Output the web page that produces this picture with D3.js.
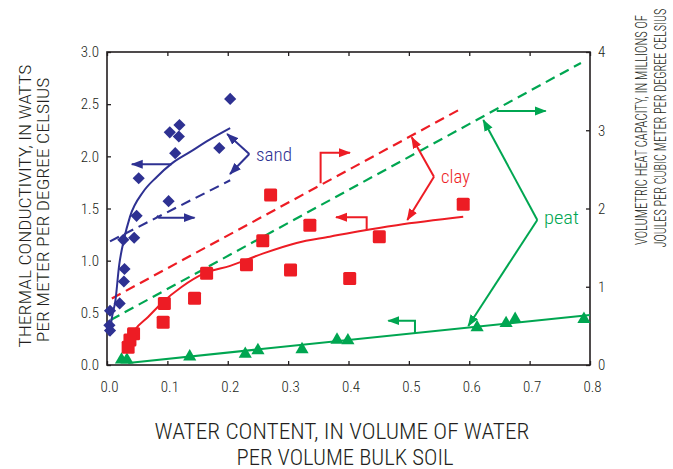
<!DOCTYPE html>
<html>
<head>
<meta charset="utf-8">
<script src="https://d3js.org/d3.v7.min.js"></script>
<style>
  body { margin: 0; background: #fff; }
  svg text { font-family: "Liberation Sans Narrow", "Roboto", "Liberation Sans", sans-serif; font-stretch: condensed; }
  .axis text { fill: #231f20; font-size: 15px; font-weight: 300; }
  .axis line { stroke: #231f20; stroke-width: 1.3px; }
  .axis path { display: none; }
  .ttl { font-weight: 300; }
</style>
</head>
<body>
<svg width="673" height="469"></svg>
<script>
// ---- data ----
// measured points, thermal conductivity (W/m/K) vs water content
var sandX = [0.204, 0.104, 0.120, 0.119, 0.113, 0.186, 0.0525, 0.102, 0.049, 0.027, 0.045, 0.029, 0.028, 0.021, 0.005, 0.004, 0.005];
var sandY = [2.55, 2.23, 2.30, 2.19, 2.03, 2.08, 1.79, 1.57, 1.43, 1.20, 1.22, 0.92, 0.80, 0.59, 0.52, 0.38, 0.33];
var clayX = [0.271, 0.336, 0.258, 0.451, 0.590, 0.231, 0.304, 0.402, 0.165, 0.095, 0.145, 0.093, 0.044, 0.038, 0.035];
var clayY = [1.63, 1.34, 1.19, 1.23, 1.54, 0.96, 0.91, 0.83, 0.88, 0.59, 0.64, 0.41, 0.30, 0.24, 0.17];
var peatX = [0.024, 0.033, 0.137, 0.229, 0.25, 0.323, 0.381, 0.399, 0.613, 0.661, 0.676, 0.79];
var peatY = [0.05, 0.05, 0.08, 0.105, 0.14, 0.15, 0.24, 0.235, 0.36, 0.40, 0.44, 0.44];

// fitted conductivity curves
var sandFitX = [0.004, 0.008, 0.014, 0.02, 0.028, 0.038, 0.06, 0.082, 0.107, 0.137, 0.17, 0.204];
var sandFitY = [0.28, 0.45, 0.62, 0.95, 1.20, 1.42, 1.66, 1.80, 1.93, 2.04, 2.16, 2.27];
var clayFitX = [0.029, 0.046, 0.068, 0.09, 0.124, 0.162, 0.204, 0.259, 0.314, 0.369, 0.425, 0.48, 0.59];
var clayFitY = [0.14, 0.335, 0.46, 0.59, 0.75, 0.88, 0.95, 1.07, 1.17, 1.23, 1.29, 1.34, 1.42];
var peatFitX = [0.035, 0.8];
var peatFitY = [0.02, 0.48];

// heat capacity lines (MJ/m3/K, right axis)
var sandCapX = [0.005, 0.204];
var sandCapY = [1.58, 2.36];
var clayCapX = [0.008, 0.59];
var clayCapY = [0.85, 3.29];
var peatCapX = [0.006, 0.785];
var peatCapY = [0.575, 3.86];

var xTicks = [0, 0.1, 0.2, 0.3, 0.4, 0.5, 0.6, 0.7, 0.8];
var yLeftTicks = [0, 0.5, 1, 1.5, 2, 2.5, 3];
var yRightTicks = [0, 1, 2, 3, 4];

var blue = "#2e3192", red = "#ed1c24", green = "#00a651";

var svg = d3.select("svg");
var mLeft = 107, mRight = 590, mTop = 52, mBottom = 365;

var x = d3.scaleLinear().domain([0, 0.8]).range([mLeft, mRight]);
var y = d3.scaleLinear().domain([0, 3]).range([mBottom, mTop]);
var y2 = d3.scaleLinear().domain([0, 4]).range([mBottom, mTop]);

// axes, ticks point inward
svg.append("g").attr("class", "axis")
  .attr("transform", "translate(0," + mBottom + ")")
  .call(d3.axisBottom(x).tickValues(xTicks).tickSizeInner(-4).tickSizeOuter(0).tickPadding(16)
    .tickFormat(d3.format(".1f")))
  .selectAll("text").attr("dx", 2);
svg.append("g").attr("class", "axis")
  .attr("transform", "translate(0," + mTop + ")")
  .call(d3.axisTop(x).tickValues(xTicks).tickSizeInner(-4).tickSizeOuter(0).tickFormat(""));
svg.append("g").attr("class", "axis")
  .attr("transform", "translate(" + mLeft + ",0)")
  .call(d3.axisLeft(y).tickValues(yLeftTicks).tickSizeInner(-4).tickSizeOuter(0).tickPadding(8)
    .tickFormat(d3.format(".1f")));
svg.append("g").attr("class", "axis")
  .attr("transform", "translate(" + mRight + ",0)")
  .call(d3.axisRight(y2).tickValues(yRightTicks).tickSizeInner(-4).tickSizeOuter(0).tickPadding(8)
    .tickFormat(d3.format("d")));

svg.append("rect")
  .attr("x", mLeft).attr("y", mTop)
  .attr("width", mRight - mLeft).attr("height", mBottom - mTop)
  .attr("fill", "none").attr("stroke", "#231f20").attr("stroke-width", 1.6);

// arrow markers
var defs = svg.append("defs");
[["b", blue], ["r", red], ["g", green]].forEach(function(c) {
  defs.append("marker")
    .attr("id", "arr-" + c[0])
    .attr("viewBox", "0 -5 12 10")
    .attr("refX", 11).attr("refY", 0)
    .attr("markerUnits", "userSpaceOnUse")
    .attr("markerWidth", 12).attr("markerHeight", 10)
    .attr("orient", "auto")
    .append("path").attr("d", "M0,-4.5L12,0L0,4.5Z").attr("fill", c[1]);
});

function pts(xs, ys, yScale) {
  return xs.map(function(d, i) { return [x(d), yScale(ys[i])]; });
}

var smooth = d3.line().curve(d3.curveMonotoneX);
var straight = d3.line();

// dashed heat-capacity lines
[[peatCapX, peatCapY, green], [clayCapX, clayCapY, red], [sandCapX, sandCapY, blue]].forEach(function(s) {
  svg.append("path")
    .attr("d", straight(pts(s[0], s[1], y2)))
    .attr("fill", "none").attr("stroke", s[2])
    .attr("stroke-width", 2.2).attr("stroke-dasharray", "10,6");
});

// fitted conductivity curves
[[peatFitX, peatFitY, green], [clayFitX, clayFitY, red], [sandFitX, sandFitY, blue]].forEach(function(s) {
  svg.append("path")
    .attr("d", smooth(pts(s[0], s[1], y)))
    .attr("fill", "none").attr("stroke", s[2]).attr("stroke-width", 2);
});

// markers
var tri = d3.symbol().type(d3.symbolTriangle).size(75);
svg.append("g").selectAll("path").data(peatX).join("path")
  .attr("d", tri)
  .attr("transform", function(d, i) { return "translate(" + x(d) + "," + y(peatY[i]) + ")"; })
  .attr("fill", green);

svg.append("g").selectAll("rect").data(clayX).join("rect")
  .attr("x", function(d) { return x(d) - 6.5; })
  .attr("y", function(d, i) { return y(clayY[i]) - 6.5; })
  .attr("width", 13).attr("height", 13).attr("rx", 1.5)
  .attr("fill", red);

// diamonds: square turned 45 degrees
var dia = d3.symbol().type(d3.symbolSquare).size(74);
svg.append("g").selectAll("path").data(sandX).join("path")
  .attr("d", dia)
  .attr("transform", function(d, i) { return "translate(" + x(d) + "," + y(sandY[i]) + ") rotate(45)"; })
  .attr("fill", blue);

// annotation arrows, in data units (x water content, y conductivity)
function arrow(p, color, id) {
  svg.append("path")
    .attr("d", straight(p.map(function(d) { return [x(d[0]), y(d[1])]; })))
    .attr("fill", "none").attr("stroke", color).attr("stroke-width", 2)
    .attr("marker-end", "url(#arr-" + id + ")");
}
function forked(v, a, b, color, id) {
  arrow([v, a], color, id);
  arrow([v, b], color, id);
}

arrow([[0.107, 1.924], [0.041, 1.924]], blue, "b");
arrow([[0.0828, 1.43], [0.086, 1.412], [0.145, 1.412]], blue, "b");
forked([0.2357, 2.022], [0.199, 2.214], [0.2037, 1.831], blue, "b");

arrow([[0.3538, 1.742], [0.3538, 2.035], [0.4024, 2.035]], red, "r");
arrow([[0.4301, 1.294], [0.4301, 1.416], [0.3793, 1.416]], red, "r");
forked([0.5416, 1.805], [0.5047, 2.182], [0.4974, 1.39], red, "r");

arrow([[0.6455, 2.4345], [0.7266, 2.4345]], green, "g");
arrow([[0.5101, 0.304], [0.5101, 0.4246], [0.4659, 0.4246]], green, "g");
forked([0.7127, 1.39], [0.6233, 2.348], [0.5984, 0.374], green, "g");

// text squeezed horizontally to the width seen in the figure (condensed face)
function squeezed(g, tx, ty, rot, len, txt) {
  var t = g.append("text").attr("class", "ttl").text(txt);
  var w = t.node().getComputedTextLength();
  t.attr("transform", "translate(" + tx + "," + ty + ") rotate(" + rot + ") scale(" + (len / w) + ",1)");
  return t;
}

// series labels
var sl = svg.append("g").style("font-size", "19px");
squeezed(sl, 256, 161, 0, 36, "sand").attr("fill", blue);
squeezed(sl, 441, 183, 0, 29, "clay").attr("fill", red);
squeezed(sl, 544, 224, 0, 35, "peat").attr("fill", green);

// axis titles
var bt = svg.append("g").attr("fill", "#231f20").style("font-size", "22px").attr("text-anchor", "middle");
squeezed(bt, 342, 439, 0, 375, "WATER CONTENT, IN VOLUME OF WATER");
squeezed(bt, 345, 465, 0, 217, "PER VOLUME BULK SOIL");

var lt = svg.append("g").attr("fill", "#231f20").style("font-size", "16px").attr("text-anchor", "middle");
squeezed(lt, 31, 206, -90, 283, "THERMAL CONDUCTIVITY, IN WATTS");
squeezed(lt, 49, 210, -90, 265, "PER METER PER DEGREE CELSIUS");

var rt = svg.append("g").attr("fill", "#231f20").style("font-size", "16px").attr("text-anchor", "middle");
squeezed(rt, 647, 130, -90, 230, "VOLUMETRIC HEAT CAPACITY, IN MILLIONS OF");
squeezed(rt, 666, 128, -90, 239, "JOULES PER CUBIC METER PER DEGREE CELSIUS");
</script>
</body>
</html>
